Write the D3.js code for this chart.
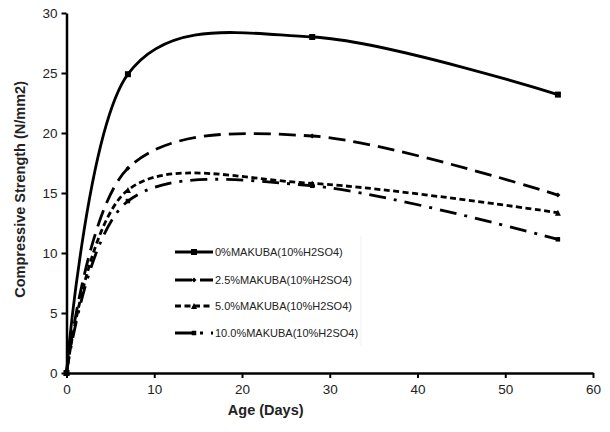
<!DOCTYPE html>
<html><head><meta charset="utf-8">
<script src="https://cdn.jsdelivr.net/npm/d3@7"></script>
<style>body{margin:0;background:#fff}svg{display:block}</style>
</head><body>
<svg id="c" width="610" height="432"></svg>
<script>
const ages = [0, 7, 28, 56];
const seriesNames = ["0%MAKUBA(10%H2SO4)", "2.5%MAKUBA(10%H2SO4)", "5.0%MAKUBA(10%H2SO4)", "10.0%MAKUBA(10%H2SO4)"];
const s0 = [0, 24.9, 28.0, 23.2];
const s25 = [0, 17.06, 19.75, 14.83];
const s50 = [0, 15.25, 15.8, 13.36];
const s100 = [0, 14.33, 15.6, 11.14];
const xTicks = [0, 10, 20, 30, 40, 50, 60];
const yTicks = [0, 5, 10, 15, 20, 25, 30];

const svg = d3.select("#c");
const x = d3.scaleLinear().domain([0, 60]).range([66.5, 593]);
const y = d3.scaleLinear().domain([0, 30]).range([373, 13]);

const styles = [
  {dash: null, marker: "square", ms: 6},
  {dash: "17,8", marker: "diamond", ms: 5},
  {dash: "6,3.5", marker: "triangle", ms: 6},
  {dash: "17,8,3,8", marker: "square", ms: 4.5}
];
const series = [s0, s25, s50, s100];

const line = d3.line().x(d => x(d[0])).y(d => y(d[1])).curve(d3.curveCardinal.tension(0));

// axes
const xa = svg.append("g").attr("transform", `translate(0,${y(0)})`)
  .call(d3.axisBottom(x).tickValues(xTicks).tickSize(5).tickPadding(6).tickSizeOuter(0));
const ya = svg.append("g").attr("transform", `translate(${x(0)},0)`)
  .call(d3.axisLeft(y).tickValues(yTicks).tickSize(5).tickPadding(4).tickSizeOuter(0));
[xa, ya].forEach(a => {
  a.select(".domain").attr("stroke", "#000").attr("stroke-width", 2.5);
  a.selectAll(".tick line").attr("stroke", "#000").attr("stroke-width", 2);
  a.selectAll(".tick text").attr("fill", "#222").attr("font-family", "Liberation Sans, Arial, sans-serif").attr("font-size", 13.5);
});

// legend box
const lg = svg.append("g");
lg.append("rect").attr("x", 160).attr("y", 236).attr("width", 201).attr("height", 110)
  .attr("fill", "#fff").attr("stroke", "none");
lg.append("line").attr("x1", 361).attr("x2", 361).attr("y1", 236).attr("y2", 346)
  .attr("stroke", "#f0f0f0").attr("stroke-width", 1);

function drawMarker(g, type, cx, cy, s) {
  if (type === "square") {
    g.append("rect").attr("x", cx - s/2).attr("y", cy - s/2).attr("width", s).attr("height", s).attr("fill", "#000");
  } else if (type === "diamond") {
    g.append("path").attr("d", `M${cx},${cy - s/2}L${cx + s/2},${cy}L${cx},${cy + s/2}L${cx - s/2},${cy}Z`).attr("fill", "#000");
  } else {
    g.append("path").attr("d", `M${cx},${cy - s/2}L${cx + s/2},${cy + s/2}L${cx - s/2},${cy + s/2}Z`).attr("fill", "#000");
  }
}

// lines
const plot = svg.append("g");
series.forEach((vals, i) => {
  const pts = ages.map((a, j) => [a, vals[j]]);
  plot.append("path").datum(pts).attr("d", line)
    .attr("fill", "none").attr("stroke", "#000").attr("stroke-width", 2.8)
    .attr("stroke-dasharray", styles[i].dash);
  pts.forEach(p => drawMarker(plot, styles[i].marker, x(p[0]), y(p[1]), styles[i].ms));
});

// legend entries
const legendY = [252, 280, 306, 333];
seriesNames.forEach((n, i) => {
  const g = lg.append("g");
  g.append("line").attr("x1", 175).attr("x2", 213).attr("y1", legendY[i]).attr("y2", legendY[i])
    .attr("stroke", "#000").attr("stroke-width", 2.8).attr("stroke-dasharray", styles[i].dash);
  drawMarker(g, styles[i].marker, 194, legendY[i], styles[i].ms);
  g.append("text").attr("x", 215).attr("y", legendY[i] + 4).text(n)
    .attr("font-family", "Liberation Sans, Arial, sans-serif").attr("font-size", 11).attr("fill", "#222");
});

// axis titles
svg.append("text").attr("x", x(22.7)).attr("y", 415).attr("text-anchor", "middle")
  .attr("font-family", "Liberation Sans, Arial, sans-serif").attr("font-weight", "bold").attr("font-size", 14.5)
  .attr("fill", "#222").text("Age (Days)");
svg.append("text").attr("transform", `translate(25,${y(15.3)}) rotate(-90)`).attr("text-anchor", "middle")
  .attr("font-family", "Liberation Sans, Arial, sans-serif").attr("font-weight", "bold").attr("font-size", 14.5)
  .attr("fill", "#222").text("Compressive Strength (N/mm2)");
</script>
</body></html>
